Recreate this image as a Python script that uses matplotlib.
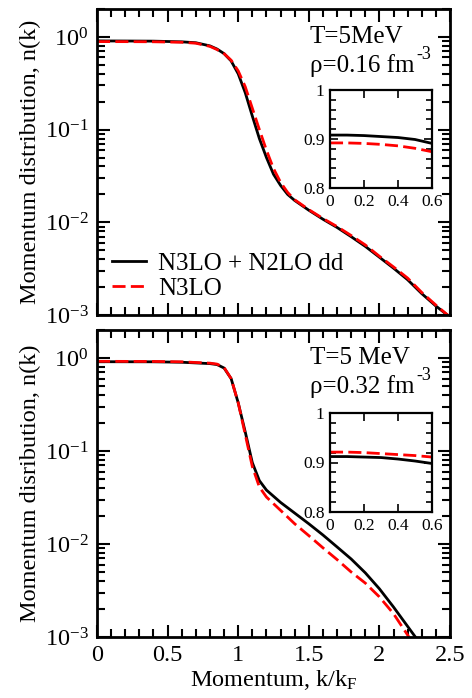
import numpy as np
import matplotlib
matplotlib.use("Agg")
import matplotlib.pyplot as plt
from matplotlib.ticker import MultipleLocator, LogLocator, NullFormatter

plt.rcParams['font.family'] = ['Liberation Serif', 'DejaVu Serif']
plt.rcParams['mathtext.fontset'] = 'custom'
plt.rcParams['mathtext.rm'] = 'Liberation Serif'
plt.rcParams['mathtext.it'] = 'Liberation Serif:italic'

# ---- top panel (rho = 0.16 fm^-3) ----
k_top_full = [0, 0.2, 0.4, 0.6, 0.7, 0.8, 0.85, 0.9, 0.95, 1.0, 1.05, 1.1, 1.15, 1.2, 1.25, 1.3,
              1.35, 1.4, 1.5, 1.6, 1.7, 1.8, 1.9, 2.0, 2.1, 2.2, 2.3, 2.4, 2.5]
n_top_full = [0.905, 0.903, 0.9, 0.885, 0.865, 0.80, 0.74, 0.66, 0.55, 0.40, 0.25, 0.14, 0.08, 0.05,
              0.033, 0.025, 0.020, 0.0172, 0.0135, 0.0108, 0.0088, 0.0070, 0.0055, 0.0042, 0.0032,
              0.0024, 0.0017, 0.00125, 0.00095]
k_top_n3 = [0, 0.2, 0.4, 0.6, 0.7, 0.8, 0.85, 0.9, 0.95, 1.0, 1.05, 1.1, 1.15, 1.2, 1.25, 1.3,
            1.35, 1.4, 1.5, 1.6, 1.7, 1.8, 1.9, 2.0, 2.1, 2.2, 2.3, 2.4, 2.5]
n_top_n3 = [0.89, 0.889, 0.886, 0.875, 0.855, 0.79, 0.73, 0.66, 0.56, 0.43, 0.29, 0.17, 0.10, 0.06,
            0.038, 0.027, 0.021, 0.0175, 0.0137, 0.011, 0.009, 0.0072, 0.0057, 0.0043, 0.0033,
            0.0025, 0.00175, 0.00128, 0.00095]

# ---- bottom panel (rho = 0.32 fm^-3) ----
k_bot_full = [0, 0.4, 0.6, 0.8, 0.85, 0.9, 0.95, 1.0, 1.05, 1.1, 1.15, 1.2, 1.3, 1.4, 1.5, 1.6,
              1.7, 1.8, 1.9, 2.0, 2.1, 2.2, 2.27]
n_bot_full = [0.912, 0.91, 0.9, 0.87, 0.85, 0.78, 0.6, 0.33, 0.16, 0.075, 0.048, 0.038, 0.028,
              0.0215, 0.0165, 0.0125, 0.0093, 0.0069, 0.0049, 0.0033, 0.0021, 0.00130, 0.00093]
k_bot_n3 = [0, 0.4, 0.6, 0.8, 0.85, 0.9, 0.95, 1.0, 1.05, 1.1, 1.15, 1.2, 1.3, 1.4, 1.5, 1.6,
            1.7, 1.8, 1.9, 2.0, 2.1, 2.2, 2.22]
n_bot_n3 = [0.921, 0.918, 0.91, 0.88, 0.86, 0.79, 0.6, 0.33, 0.15, 0.068, 0.041, 0.032, 0.023,
            0.0165, 0.0123, 0.0091, 0.0068, 0.0050, 0.0038, 0.0027, 0.00178, 0.00105, 0.00094]

# ---- insets ----
k_in = [0, 0.1, 0.2, 0.3, 0.4, 0.5, 0.6]
in_top_full = [0.908, 0.908, 0.907, 0.905, 0.903, 0.899, 0.891]
in_top_n3 = [0.892, 0.892, 0.891, 0.889, 0.886, 0.881, 0.874]
in_bot_full = [0.912, 0.912, 0.911, 0.910, 0.907, 0.903, 0.898]
in_bot_n3 = [0.921, 0.921, 0.920, 0.918, 0.916, 0.914, 0.911]

W, H = 472, 698
fig = plt.figure(figsize=(W / 100, H / 100), dpi=100)

def px_axes(l, r, t, b):
    return fig.add_axes([l / W, 1 - b / H, (r - l) / W, (b - t) / H])

def style_main(ax):
    ax.set_yscale('log')
    ax.set_xlim(0, 2.5)
    ax.set_ylim(1e-3, 2)
    ax.xaxis.set_major_locator(MultipleLocator(0.5))
    ax.xaxis.set_minor_locator(MultipleLocator(0.1))
    ax.yaxis.set_major_locator(LogLocator(base=10, numticks=10))
    ax.yaxis.set_minor_locator(LogLocator(base=10, subs=np.arange(2, 10), numticks=10))
    ax.yaxis.set_minor_formatter(NullFormatter())
    ax.tick_params(which='both', direction='in', top=True, right=True, width=1.5)
    ax.tick_params(which='major', length=9, labelsize=17.5, pad=6)
    ax.tick_params(which='minor', length=5.8)
    for s in ax.spines.values():
        s.set_linewidth(2)

def style_inset(ax):
    ax.set_xlim(0, 0.6)
    ax.set_ylim(0.8, 1.0)
    ax.yaxis.set_minor_locator(MultipleLocator(0.02))
    ax.tick_params(which='both', direction='in', top=True, right=True, width=1.2)
    ax.tick_params(which='major', length=6, labelsize=12.5, pad=4)
    ax.tick_params(which='minor', length=4)
    ax.set_xticks([0, 0.2, 0.4, 0.6])
    ax.set_xticklabels(['0', '0.2', '0.4', '0.6'])
    ax.set_yticks([0.8, 0.9, 1.0])
    ax.set_yticklabels(['0.8', '0.9', '1'])
    for s in ax.spines.values():
        s.set_linewidth(1.6)

def conditions(ax, t_label, rho_label):
    ax.text(0.603, 0.908, t_label, transform=ax.transAxes, fontsize=18, ha='left', va='center')
    rt = ax.text(0.603, 0.815, rho_label, transform=ax.transAxes, fontsize=18, ha='left', va='center')
    ax.annotate('-3', xy=(1.0, 0.97), xycoords=rt, xytext=(1.5, 0), textcoords='offset points',
                fontsize=13, ha='left', va='center')

dash = (0, (4.7, 1.9))
LW = 2.0

ax1 = px_axes(97, 450, 9, 315)
style_main(ax1)
l1, = ax1.plot(k_top_full, n_top_full, color='black', lw=LW)
l2, = ax1.plot(k_top_n3, n_top_n3, color='red', lw=LW, linestyle=dash)
ax1.set_ylabel('Momentum distribution, n(k)', fontsize=17.5, labelpad=3)
ax1.tick_params(axis='x', labelbottom=False)
conditions(ax1, 'T=5MeV', 'ρ=0.16 fm')
ax1.legend([l1, l2], ['N3LO + N2LO dd', 'N3LO'], loc='lower left', bbox_to_anchor=(0.042, 0.05),
           frameon=False, fontsize=18, handlelength=1.35, handletextpad=0.5, labelspacing=0.1,
           borderpad=0, borderaxespad=0)

in1 = px_axes(330, 432, 90, 188)
style_inset(in1)
in1.plot(k_in, in_top_full, color='black', lw=LW)
in1.plot(k_in, in_top_n3, color='red', lw=LW, linestyle=dash)

ax2 = px_axes(97, 450, 330, 637)
style_main(ax2)
ax2.plot(k_bot_full, n_bot_full, color='black', lw=LW)
ax2.plot(k_bot_n3, n_bot_n3, color='red', lw=LW, linestyle=dash)
ax2.set_ylabel('Momentum disribution, n(k)', fontsize=17.5, labelpad=3)
ax2.set_xlabel(r'Momentum, k/k$_\mathregular{F}$', fontsize=17.5, labelpad=1)
ax2.set_xticks([0, 0.5, 1, 1.5, 2, 2.5])
ax2.set_xticklabels(['0', '0.5', '1', '1.5', '2', '2.5'])
conditions(ax2, 'T=5 MeV', 'ρ=0.32 fm')

in2 = px_axes(330, 432, 413, 512)
style_inset(in2)
in2.plot(k_in, in_bot_full, color='black', lw=LW)
in2.plot(k_in, in_bot_n3, color='red', lw=LW, linestyle=dash)

fig.savefig('out.png', dpi=100)
